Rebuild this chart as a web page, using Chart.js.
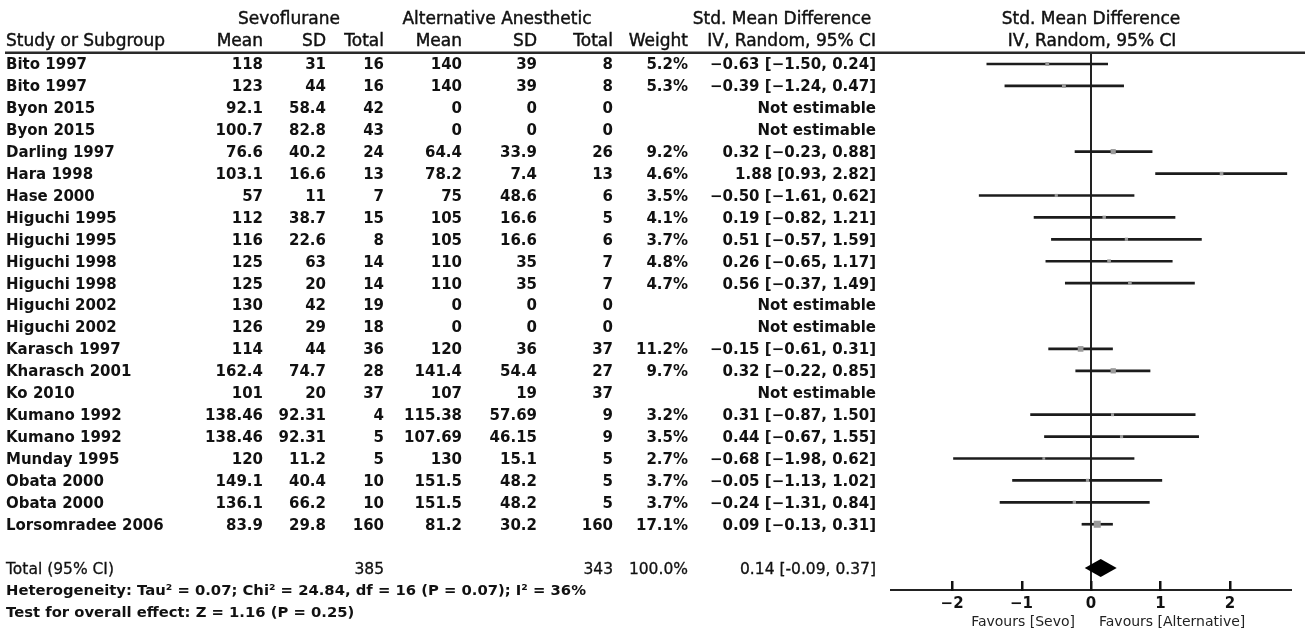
<!DOCTYPE html>
<html>
<head>
<meta charset="utf-8">
<title>Sevoflurane vs alternative anesthetic – forest plot</title>
<script src="https://cdn.jsdelivr.net/npm/chart.js@4.4.1/dist/chart.umd.min.js"></script>
<style>
  html, body { margin: 0; padding: 0; background: #ffffff; }
  #wrap { width: 1306px; height: 631px; }
</style>
</head>
<body>
<div id="wrap"><canvas id="forest" width="1306" height="631"></canvas></div>
<script>
// ---- study data ----
const studies = ["Bito 1997", "Bito 1997", "Byon 2015", "Byon 2015", "Darling 1997", "Hara 1998",
  "Hase 2000", "Higuchi 1995", "Higuchi 1995", "Higuchi 1998", "Higuchi 1998", "Higuchi 2002",
  "Higuchi 2002", "Karasch 1997", "Kharasch 2001", "Ko 2010", "Kumano 1992", "Kumano 1992",
  "Munday 1995", "Obata 2000", "Obata 2000", "Lorsomradee 2006"];
const sevoMean = [118, 123, 92.1, 100.7, 76.6, 103.1, 57, 112, 116, 125, 125, 130, 126, 114, 162.4, 101, 138.46, 138.46, 120, 149.1, 136.1, 83.9];
const sevoSD = [31, 44, 58.4, 82.8, 40.2, 16.6, 11, 38.7, 22.6, 63, 20, 42, 29, 44, 74.7, 20, 92.31, 92.31, 11.2, 40.4, 66.2, 29.8];
const sevoTotal = [16, 16, 42, 43, 24, 13, 7, 15, 8, 14, 14, 19, 18, 36, 28, 37, 4, 5, 5, 10, 10, 160];
const altMean = [140, 140, 0, 0, 64.4, 78.2, 75, 105, 105, 110, 110, 0, 0, 120, 141.4, 107, 115.38, 107.69, 130, 151.5, 151.5, 81.2];
const altSD = [39, 39, 0, 0, 33.9, 7.4, 48.6, 16.6, 16.6, 35, 35, 0, 0, 36, 54.4, 19, 57.69, 46.15, 15.1, 48.2, 48.2, 30.2];
const altTotal = [8, 8, 0, 0, 26, 13, 6, 5, 6, 7, 7, 0, 0, 37, 27, 37, 9, 9, 5, 5, 5, 160];
const weightPct = [5.2, 5.3, null, null, 9.2, 4.6, 3.5, 4.1, 3.7, 4.8, 4.7, null, null, 11.2, 9.7, null, 3.2, 3.5, 2.7, 3.7, 3.7, 17.1];
const smd = [-0.63, -0.39, null, null, 0.32, 1.88, -0.50, 0.19, 0.51, 0.26, 0.56, null, null, -0.15, 0.32, null, 0.31, 0.44, -0.68, -0.05, -0.24, 0.09];
const ciLow = [-1.50, -1.24, null, null, -0.23, 0.93, -1.61, -0.82, -0.57, -0.65, -0.37, null, null, -0.61, -0.22, null, -0.87, -0.67, -1.98, -1.13, -1.31, -0.13];
const ciHigh = [0.24, 0.47, null, null, 0.88, 2.82, 0.62, 1.21, 1.59, 1.17, 1.49, null, null, 0.31, 0.85, null, 1.50, 1.55, 0.62, 1.02, 0.84, 0.31];

// ---- pooled result ----
const totalSevoN = 385;
const totalAltN = 343;
const totalWeight = 100.0;
const totalSmd = 0.14;
const totalLow = -0.09;
const totalHigh = 0.37;
const heterogeneityText = "Heterogeneity: Tau\u00B2 = 0.07; Chi\u00B2 = 24.84, df = 16 (P = 0.07); I\u00B2 = 36%";
const overallEffectText = "Test for overall effect: Z = 1.16 (P = 0.25)";

// ---- axis ----
const tickValues = [-2, -1, 0, 1, 2];
const axisMin = -2.88;
const axisMax = 2.88;
const leftLabel = "Favours [Sevo]";
const rightLabel = "Favours [Alternative]";

// ---- helpers ----
const FAMILY = "'DejaVu Sans', 'Liberation Sans', sans-serif";
const MINUS = "\u2212";
const signed = v => (v < 0 ? MINUS + Math.abs(v).toFixed(2) : v.toFixed(2));
const ciText = i => smd[i] === null ? "Not estimable"
  : `${signed(smd[i])} [${signed(ciLow[i])}, ${signed(ciHigh[i])}]`;
const weightText = i => weightPct[i] === null ? "" : weightPct[i].toFixed(1) + "%";

const rowIdx = studies.map((_, i) => i);
const estimable = rowIdx.filter(i => smd[i] !== null);
const totalRow = studies.length + 1;

// column anchors of the table part
const col = {
  study: 6, sMean: 263, sSD: 326, sN: 384, aMean: 462, aSD: 537, aN: 613, weight: 688, ci: 876,
  sGroup: 289, aGroup: 497, ciGroup: 782
};

function txt(ctx, s, x, y, align, font, stroke) {
  ctx.font = font;
  ctx.textAlign = align;
  ctx.textBaseline = "middle";
  ctx.fillText(s, x, y);
  if (stroke) {
    ctx.lineWidth = stroke;
    ctx.strokeText(s, x, y);
  }
}

const tablePlugin = {
  id: "forestTable",
  afterDraw(chart) {
    const ctx = chart.ctx;
    const ys = chart.scales.y;
    const xs = chart.scales.x;
    const area = chart.chartArea;
    const x0 = xs.getPixelForValue(0);
    ctx.save();
    ctx.fillStyle = "#111";
    ctx.strokeStyle = "#111";

    // header rule
    ctx.fillStyle = "#2a2a2a";
    ctx.fillRect(5, area.top - 1.5, 1300, 2.5);
    ctx.fillStyle = "#111";

    // headers
    const hFont = `17px ${FAMILY}`;
    const hs = 0.45;
    txt(ctx, "Sevoflurane", col.sGroup, 20, "center", hFont, hs);
    txt(ctx, "Alternative Anesthetic", col.aGroup, 20, "center", hFont, hs);
    txt(ctx, "Std. Mean Difference", col.ciGroup, 20, "center", hFont, hs);
    txt(ctx, "Study or Subgroup", col.study, 42, "left", hFont, hs);
    txt(ctx, "Mean", col.sMean, 42, "right", hFont, hs);
    txt(ctx, "SD", col.sSD, 42, "right", hFont, hs);
    txt(ctx, "Total", col.sN, 42, "right", hFont, hs);
    txt(ctx, "Mean", col.aMean, 42, "right", hFont, hs);
    txt(ctx, "SD", col.aSD, 42, "right", hFont, hs);
    txt(ctx, "Total", col.aN, 42, "right", hFont, hs);
    txt(ctx, "Weight", col.weight, 42, "right", hFont, hs);
    txt(ctx, "IV, Random, 95% CI", col.ci, 42, "right", hFont, hs);
    txt(ctx, "Std. Mean Difference", x0, 20, "center", hFont, hs);
    txt(ctx, "IV, Random, 95% CI", x0 + 1, 42, "center", hFont, hs);

    // study rows
    const dFont = `bold 15px ${FAMILY}`;
    rowIdx.forEach(i => {
      const y = ys.getPixelForValue(i) + 1.5;
      txt(ctx, studies[i], col.study, y, "left", dFont);
      txt(ctx, String(sevoMean[i]), col.sMean, y, "right", dFont);
      txt(ctx, String(sevoSD[i]), col.sSD, y, "right", dFont);
      txt(ctx, String(sevoTotal[i]), col.sN, y, "right", dFont);
      txt(ctx, String(altMean[i]), col.aMean, y, "right", dFont);
      txt(ctx, String(altSD[i]), col.aSD, y, "right", dFont);
      txt(ctx, String(altTotal[i]), col.aN, y, "right", dFont);
      txt(ctx, weightText(i), col.weight, y, "right", dFont);
      txt(ctx, ciText(i), col.ci, y, "right", dFont);
    });

    // pooled row
    const tFont = `15.5px ${FAMILY}`;
    const ty = ys.getPixelForValue(totalRow) + 1.5;
    txt(ctx, "Total (95% CI)", col.study, ty, "left", tFont, 0.3);
    txt(ctx, String(totalSevoN), col.sN, ty, "right", tFont, 0.3);
    txt(ctx, String(totalAltN), col.aN, ty, "right", tFont, 0.3);
    txt(ctx, totalWeight.toFixed(1) + "%", col.weight, ty, "right", tFont, 0.3);
    txt(ctx, `${totalSmd.toFixed(2)} [${totalLow.toFixed(2)}, ${totalHigh.toFixed(2)}]`, col.ci, ty, "right", tFont, 0.3);

    const sFont = `bold 14.8px ${FAMILY}`;
    txt(ctx, heterogeneityText, col.study, ys.getPixelForValue(totalRow + 1) + 1.5, "left", sFont);
    txt(ctx, overallEffectText, col.study, ys.getPixelForValue(totalRow + 2) + 1.5, "left", sFont);

    // pooled diamond
    const dy = ys.getPixelForValue(totalRow);
    ctx.fillStyle = "#000";
    ctx.beginPath();
    ctx.moveTo(xs.getPixelForValue(totalLow), dy);
    ctx.lineTo(xs.getPixelForValue(totalSmd), dy - 9);
    ctx.lineTo(xs.getPixelForValue(totalHigh), dy);
    ctx.lineTo(xs.getPixelForValue(totalSmd), dy + 9);
    ctx.closePath();
    ctx.fill();

    // upward tick marks on the effect axis
    ctx.fillStyle = "#111";
    tickValues.forEach(v => {
      const px = Math.round(xs.getPixelForValue(v));
      ctx.fillRect(px - 1, area.bottom - 9, 2.5, 10);
    });

    // direction labels
    ctx.fillStyle = "#222";
    const fFont = `14px ${FAMILY}`;
    txt(ctx, leftLabel, x0 - 16, 622, "right", fFont);
    txt(ctx, rightLabel, x0 + 8, 622, "left", fFont);
    ctx.restore();
  }
};

new Chart(document.getElementById("forest"), {
  type: "bar",
  data: {
    datasets: [
      {
        type: "scatter",
        label: "SMD",
        order: 0,
        data: estimable.map(i => ({ x: smd[i], y: i, w: weightPct[i] })),
        pointStyle: "rect",
        pointRadius: c => (c.raw ? 1.7 * Math.sqrt(c.raw.w) / Math.SQRT2 : 0),
        pointHoverRadius: c => (c.raw ? 1.7 * Math.sqrt(c.raw.w) / Math.SQRT2 : 0),
        backgroundColor: "#9a9a9a",
        borderColor: "#9a9a9a",
        borderWidth: 0
      },
      {
        type: "bar",
        label: "95% CI",
        order: 1,
        indexAxis: "y",
        data: estimable.map(i => ({ x: [ciLow[i], ciHigh[i]], y: i })),
        backgroundColor: "#1c1c1c",
        borderWidth: 0,
        barThickness: 2
      }
    ]
  },
  options: {
    responsive: false,
    animation: false,
    devicePixelRatio: 1,
    layout: { padding: { left: 891, right: 15, top: 53, bottom: 0 } },
    plugins: { legend: { display: false }, tooltip: { enabled: false } },
    scales: {
      x: {
        type: "linear",
        min: axisMin,
        max: axisMax,
        offset: false,
        beginAtZero: false,
        afterBuildTicks: s => { s.ticks = tickValues.map(v => ({ value: v })); },
        afterFit: s => { s.height = 41; },
        ticks: {
          callback: v => (v < 0 ? MINUS + Math.abs(v) : String(v)),
          font: { family: FAMILY, weight: "bold", size: 15 },
          color: "#111",
          padding: 5,
          maxRotation: 0,
          autoSkip: false
        },
        grid: {
          offset: false,
          drawTicks: false,
          lineWidth: 2,
          color: c => (c.tick && c.tick.value === 0 ? "#222" : "rgba(0,0,0,0)")
        },
        border: { display: true, color: "#222", width: 2 }
      },
      y: {
        type: "linear",
        min: -0.5,
        max: 24,
        offset: false,
        beginAtZero: false,
        reverse: true,
        display: false,
        grid: { offset: false }
      }
    }
  },
  plugins: [tablePlugin]
});
</script>
</body>
</html>
